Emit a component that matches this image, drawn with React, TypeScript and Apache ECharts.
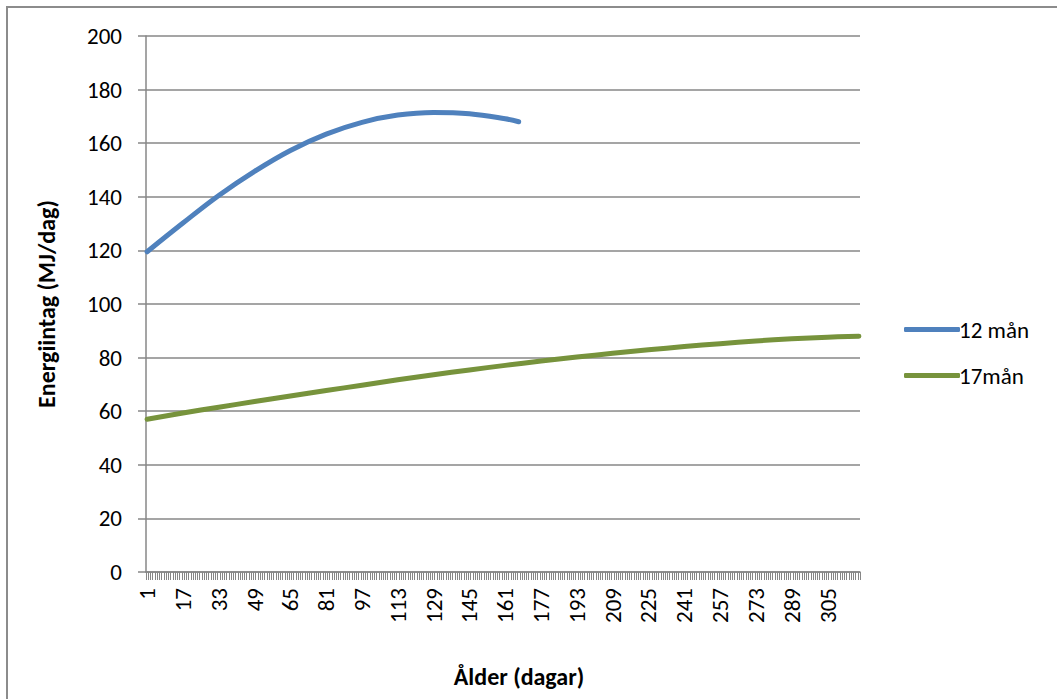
import React, { useEffect, useRef } from "react";
import * as echarts from "echarts";

// Age in days (category axis 1..319)
const dayCount = 319;
const days: string[] = Array.from({ length: dayCount }, (_, i) => String(i + 1));

// Energy intake (MJ/day) read at selected ages
const sampleDays12 = [1, 17, 33, 49, 65, 81, 97, 113, 129, 145, 161, 167];
const intake12 = [119.5, 130.2, 140.5, 149.5, 157.3, 163.4, 167.8, 170.5, 171.5, 171.0, 169.1, 168.0];

const sampleDays17 = [1, 17, 33, 49, 65, 81, 97, 113, 129, 145, 161, 177, 193, 209, 225, 241, 257, 273, 289, 305, 319];
const intake17 = [57.0, 59.3, 61.5, 63.6, 65.7, 67.7, 69.7, 71.7, 73.6, 75.4, 77.1, 78.7, 80.2, 81.6, 82.9, 84.1, 85.2, 86.2, 87.0, 87.6, 88.0];

const yTicks = { min: 0, max: 200, interval: 20 };

const FONT = "Carlito, Calibri, Lato, sans-serif";
const GRID_GRAY = "#878787";
const BLUE = "#4F81BD";
const GREEN = "#77933C";

export default function App() {
  const ref = useRef<HTMLDivElement>(null);

  useEffect(() => {
    if (!ref.current) return;
    const chart = echarts.init(ref.current, undefined, { renderer: "svg" });
    const pairs = (ds: number[], vs: number[]) => ds.map((d, i) => [String(d), vs[i]]);

    chart.setOption({
      animation: false,
      backgroundColor: "#ffffff",
      textStyle: { fontFamily: FONT },
      grid: { left: 146, right: 197, top: 36, bottom: 127, containLabel: false },
      xAxis: {
        type: "category",
        data: days,
        boundaryGap: true,
        axisLine: { show: true, lineStyle: { color: GRID_GRAY, width: 1.5 } },
        axisTick: { show: true, interval: 0, length: 8, lineStyle: { color: GRID_GRAY, width: 1 } },
        axisLabel: {
          interval: 15,
          rotate: 90,
          margin: 16,
          color: "#000",
          fontSize: 23,
          fontFamily: FONT,
        },
        splitLine: { show: false },
      },
      yAxis: {
        type: "value",
        min: yTicks.min,
        max: yTicks.max,
        interval: yTicks.interval,
        name: "Energiintag (MJ/dag)",
        nameLocation: "middle",
        nameGap: 88,
        nameRotate: 90,
        nameTextStyle: { color: "#000", fontSize: 24, fontWeight: "bold", fontFamily: FONT },
        axisLine: { show: true, lineStyle: { color: GRID_GRAY, width: 1.5 } },
        axisTick: { show: true, length: 8, lineStyle: { color: GRID_GRAY, width: 1.5 } },
        axisLabel: { color: "#000", fontSize: 23, margin: 24, fontFamily: FONT },
        splitLine: { show: true, lineStyle: { color: GRID_GRAY, width: 1.5 } },
      },
      legend: {
        orient: "vertical",
        left: 899,
        top: 313,
        icon: "roundRect",
        itemWidth: 56,
        itemHeight: 5,
        itemGap: 23,
        textStyle: { color: "#000", fontSize: 23, fontFamily: FONT, padding: [0, 0, 0, -6] },
        data: ["12 mån", "17mån"],
      },
      graphic: [
        {
          type: "rect",
          shape: { x: 7, y: 7, width: 1200, height: 900 },
          style: { fill: "none", stroke: "#8c8c8c", lineWidth: 2 },
          silent: true,
        },
        {
          type: "text",
          x: 519,
          y: 676,
          style: {
            text: "Ålder (dagar)",
            fill: "#000",
            font: `bold 24px ${FONT}`,
            align: "center",
            verticalAlign: "middle",
          },
        },
      ],
      series: [
        {
          name: "12 mån",
          type: "line",
          data: pairs(sampleDays12, intake12),
          smooth: 0.4,
          showSymbol: false,
          symbol: "none",
          color: BLUE,
          lineStyle: { color: BLUE, width: 5, cap: "round", join: "round" },
        },
        {
          name: "17mån",
          type: "line",
          data: pairs(sampleDays17, intake17),
          smooth: 0.4,
          showSymbol: false,
          symbol: "none",
          color: GREEN,
          lineStyle: { color: GREEN, width: 5, cap: "round", join: "round" },
        },
      ],
    });
    return () => chart.dispose();
  }, []);

  return (
    <div
      ref={ref}
      style={{ position: "fixed", left: 0, top: 0, width: 1057, height: 699, background: "#fff" }}
    />
  );
}
